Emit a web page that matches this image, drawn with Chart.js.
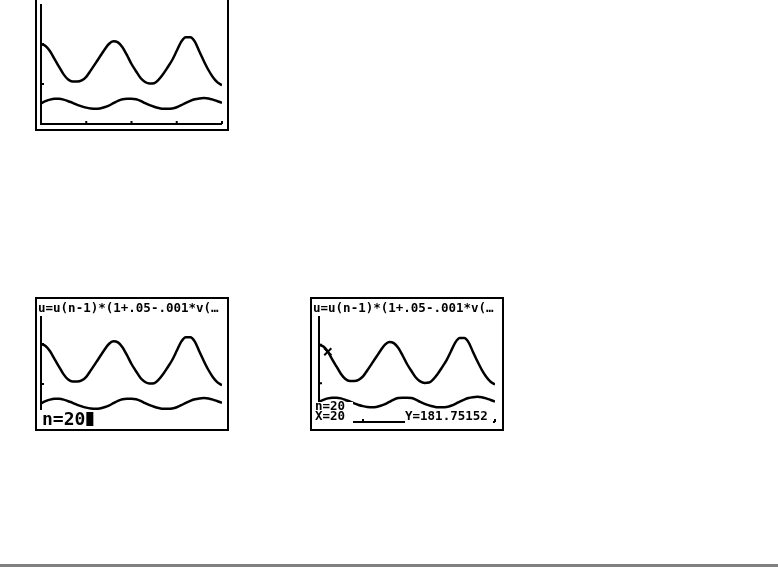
<!DOCTYPE html>
<html>
<head>
<meta charset="utf-8">
<script src="https://cdn.jsdelivr.net/npm/chart.js@4.4.0/dist/chart.umd.min.js"></script>
<style>
  body { margin: 0; background: #fff; width: 778px; height: 567px; position: relative; overflow: hidden; }
  .screen { position: absolute; width: 190px; height: 130px; border: 2px solid #000; background: #fff; }
  .screen canvas { display: block; }
  #rule { position: absolute; left: 0; top: 564px; width: 778px; height: 3px; background: #808080; }
</style>
</head>
<body>
<div class="screen" style="left:35px; top:-3px;"><canvas id="screen1" width="190" height="130"></canvas></div>
<div class="screen" style="left:35px; top:297px;"><canvas id="screen2" width="190" height="130"></canvas></div>
<div class="screen" style="left:310px; top:297px;"><canvas id="screen3" width="190" height="130"></canvas></div>
<div id="rule"></div>
<script>
// sequence index n (window 0..400)
var steps = [0, 10, 20, 30, 40, 50, 60, 70, 80, 90, 100, 110, 120, 130, 140, 150, 160, 170, 180, 190, 200,
             210, 220, 230, 240, 250, 260, 270, 280, 290, 300, 310, 320, 330, 340, 350, 360, 370, 380, 390, 400];
// u(n) - prey (upper curve)
var uValues = [200, 195, 182, 162, 143, 124, 111, 106, 106, 109, 118, 134, 151, 168, 185, 200, 207, 204, 192, 172, 150,
               132, 115, 105, 101, 102, 111, 125, 142, 160, 183, 206, 217, 217, 206, 181, 157, 135, 117, 104, 97];
// v(n) - predator (lower curve)
var vValues = [52, 57, 61, 63, 63, 61, 57, 53, 48, 44, 41, 39, 38, 39, 42, 46, 52, 58, 62, 63, 63,
               62, 58, 52, 47, 43, 40, 38, 38, 39, 42, 47, 53, 58, 62, 64, 65, 64, 61, 57, 53];
// trace cursor position
var traceN = [20];
var traceY = [181.75152];
// window tick marks
var xTicks = [100, 200, 300, 400];
var yTicks = [100, 200];

var smallFont = 'bold 12.5px "DejaVu Sans Mono", monospace';
var bigFont = 'bold 18px "DejaVu Sans Mono", monospace';

function pts(xs, ys) {
  return xs.map(function (x, i) { return { x: x, y: ys[i] }; });
}

// draws the axes like the calculator does
var axesPlugin = {
  id: 'tiAxes',
  beforeDatasetsDraw: function (chart) {
    var ctx = chart.ctx, sx = chart.scales.x, sy = chart.scales.y;
    var x0 = sx.getPixelForValue(0), y0 = sy.getPixelForValue(0);
    ctx.save();
    ctx.strokeStyle = '#000';
    ctx.lineWidth = 2;
    ctx.beginPath();
    ctx.moveTo(x0, sy.getPixelForValue(300));
    ctx.lineTo(x0, y0);
    ctx.lineTo(sx.getPixelForValue(400), y0);
    xTicks.forEach(function (t) {
      var px = sx.getPixelForValue(t);
      ctx.moveTo(px, y0);
      ctx.lineTo(px, y0 - 3);
    });
    yTicks.forEach(function (t) {
      var py = sy.getPixelForValue(t);
      ctx.moveTo(x0, py);
      ctx.lineTo(x0 + 3, py);
    });
    ctx.stroke();
    ctx.restore();
  }
};

// text rows drawn on top with cleared background
var textPlugin = {
  id: 'tiText',
  afterDraw: function (chart, args, opts) {
    var ctx = chart.ctx;
    ctx.save();
    (opts.items || []).forEach(function (it) {
      if (it.clear) {
        ctx.fillStyle = '#fff';
        ctx.fillRect(it.clear[0], it.clear[1], it.clear[2], it.clear[3]);
      }
      if (it.text) {
        ctx.fillStyle = '#000';
        ctx.font = it.font;
        ctx.textBaseline = 'alphabetic';
        ctx.fillText(it.text, it.x, it.y);
        if (it.block) {
          var w = ctx.measureText(it.text).width;
          ctx.fillRect(it.x + w + 1, it.y - 13, 7, 14);
        }
      }
    });
    ctx.restore();
  }
};

function makeScreen(id, items, withCursor) {
  var line = { borderColor: '#000', borderWidth: 2.5, pointRadius: 0, cubicInterpolationMode: 'monotone' };
  var datasets = [
    Object.assign({ data: pts(steps, uValues) }, line),
    Object.assign({ data: pts(steps, vValues) }, line)
  ];
  if (withCursor) {
    datasets.push({
      data: pts(traceN, traceY), showLine: false, pointStyle: 'crossRot',
      pointRadius: 5, borderColor: '#000', borderWidth: 2
    });
  }
  var ctx = document.getElementById(id).getContext('2d');
  return new Chart(ctx, {
    type: 'line',
    data: { datasets: datasets },
    options: {
      responsive: false,
      animation: false,
      layout: { padding: { left: 4, right: 5, top: 5, bottom: 5 } },
      scales: {
        x: { type: 'linear', min: 0, max: 400, display: false },
        y: { type: 'linear', min: 0, max: 300, display: false }
      },
      plugins: {
        legend: { display: false },
        tooltip: { enabled: false },
        tiText: { items: items }
      }
    },
    plugins: [axesPlugin, textPlugin]
  });
}

var formula = 'u=u(n-1)*(1+.05-.001*v(…';

makeScreen('screen1', [], false);

makeScreen('screen2', [
  { clear: [0, 0, 190, 17], text: formula, font: smallFont, x: 1, y: 13 },
  { clear: [0, 111, 190, 19], text: 'n=20', font: bigFont, x: 5, y: 126, block: true }
], false);

makeScreen('screen3', [
  { clear: [0, 0, 190, 17], text: formula, font: smallFont, x: 1, y: 13 },
  { clear: [0, 103, 41, 27], text: 'n=20', font: smallFont, x: 3, y: 111 },
  { text: 'X=20', font: smallFont, x: 3, y: 121 },
  { clear: [93, 112, 88, 18], text: 'Y=181.75152', font: smallFont, x: 93, y: 121 }
], true);
</script>
</body>
</html>
